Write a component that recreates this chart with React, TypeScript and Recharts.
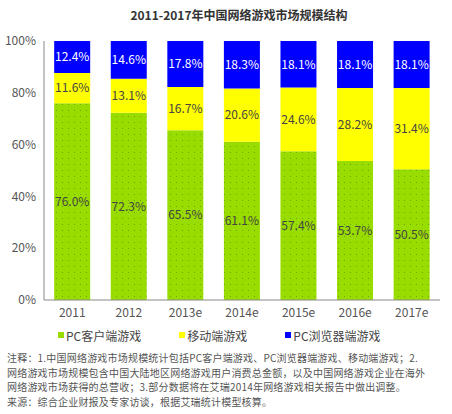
import React from "react";
import { BarChart, Bar, XAxis, YAxis, LabelList, Legend } from "recharts";

// ── Data ─────────────────────────────────────────────
const YEARS = ["2011", "2012", "2013e", "2014e", "2015e", "2016e", "2017e"];
const PC_CLIENT = [76.0, 72.3, 65.5, 61.1, 57.4, 53.7, 50.5];
const MOBILE = [11.6, 13.1, 16.7, 20.6, 24.6, 28.2, 31.4];
const PC_BROWSER = [12.4, 14.6, 17.8, 18.3, 18.1, 18.1, 18.1];
const Y_TICKS = [0, 20, 40, 60, 80, 100];

const SERIES = [
  { key: "pc", name: "PC客户端游戏", color: "#99dd00", fill: "url(#dots)", label: "#444" },
  { key: "mobile", name: "移动端游戏", color: "#ffff00", fill: "#ffff00", label: "#444" },
  { key: "browser", name: "PC浏览器端游戏", color: "#0000ff", fill: "#0000ff", label: "#ffffff" },
];

const NOTES = [
  "注释：1.中国网络游戏市场规模统计包括PC客户端游戏、PC浏览器端游戏、移动端游戏；2.",
  "网络游戏市场规模包含中国大陆地区网络游戏用户消费总金额，以及中国网络游戏企业在海外",
  "网络游戏市场获得的总营收；3.部分数据将在艾瑞2014年网络游戏相关报告中做出调整。",
  "来源：综合企业财报及专家访谈，根据艾瑞统计模型核算。",
];

const data = YEARS.map((year, i) => ({
  year,
  pc: PC_CLIENT[i],
  mobile: MOBILE[i],
  browser: PC_BROWSER[i],
}));

const FONT = "'Noto Sans CJK SC', 'Noto Sans', sans-serif";

// ── Legend ───────────────────────────────────────────
function ChartLegend() {
  return (
    <div style={{ display: "flex", paddingLeft: 58, height: 20, alignItems: "center", fontFamily: FONT, fontSize: 12, color: "#444" }}>
      {SERIES.map((s) => (
        <div key={s.key} style={{ display: "flex", alignItems: "center", marginRight: 38 }}>
          <span style={{ width: 6, height: 6, background: s.color, marginRight: 2 }} />
          <span>{s.name}</span>
        </div>
      ))}
    </div>
  );
}

export default function App() {
  return (
    <div style={{ position: "absolute", left: 0, top: 0, width: 452, height: 414, background: "#fff", fontFamily: FONT, overflow: "hidden" }}>
      <div style={{ position: "absolute", top: 6, left: 0, width: 478, textAlign: "center", fontSize: 12, fontWeight: "bold", color: "#333" }}>
        2011-2017年中国网络游戏市场规模结构
      </div>
      <BarChart
        width={452}
        height={345}
        data={data}
        margin={{ top: 41, right: 12, left: 0, bottom: 0 }}
        barCategoryGap="18%"
        style={{ position: "absolute", left: 0, top: 0 }}
      >
        <defs>
          <pattern id="dots" width="6" height="6" patternUnits="userSpaceOnUse">
            <rect width="6" height="6" fill="#99dd00" />
            <rect x="2" y="2" width="1" height="1" fill="#6fa800" />
          </pattern>
        </defs>
        <XAxis
          dataKey="year"
          height={25}
          tickLine={false}
          axisLine={{ stroke: "#888" }}
          tick={{ fontSize: 12, fill: "#555", fontFamily: FONT }}
        />
        <XAxis xAxisId="top" orientation="top" dataKey="year" height={0} tick={false} tickLine={false} axisLine={{ stroke: "#999" }} />
        <YAxis
          width={44}
          domain={[0, 100]}
          allowDataOverflow
          ticks={Y_TICKS}
          tickFormatter={(v: number) => `${v}%`}
          tickLine={false}
          axisLine={{ stroke: "#888" }}
          tick={{ fontSize: 12, fill: "#555", fontFamily: FONT }}
        />
        <YAxis yAxisId="right" orientation="right" width={0} tick={false} tickLine={false} axisLine={{ stroke: "#999" }} domain={[0, 100]} />
        <Legend verticalAlign="bottom" content={<ChartLegend />} wrapperStyle={{ height: 20 }} />
        {SERIES.map((s) => (
          <Bar key={s.key} dataKey={s.key} name={s.name} stackId="a" fill={s.fill} isAnimationActive={false}>
            <LabelList
              dataKey={s.key}
              position="center"
              formatter={(v: number) => `${v.toFixed(1)}%`}
              style={{ fontSize: 12, fill: s.label, fontFamily: FONT }}
            />
          </Bar>
        ))}
      </BarChart>
      <div style={{ position: "absolute", left: 7, top: 351, fontSize: 10, letterSpacing: 0.2, color: "#555", whiteSpace: "nowrap" }}>
        {NOTES.map((line, i) => (
          <div key={i} style={{ height: 14.5, lineHeight: "14.5px" }}>{line}</div>
        ))}
      </div>
    </div>
  );
}
